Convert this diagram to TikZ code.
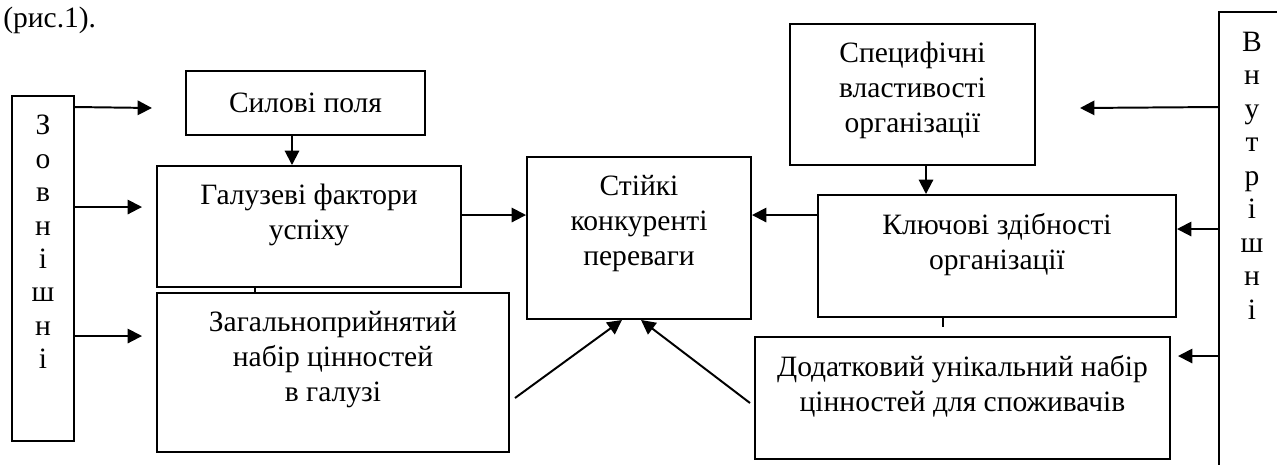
\documentclass[tikz,border=0pt]{standalone}
\usepackage{fontspec}
\setmainfont{Liberation Serif}
\usetikzlibrary{arrows.meta}
\tikzset{box/.style={draw, line width=1.4pt, inner sep=0pt},
         txt/.style={anchor=north, yshift=-4.7mm, align=center, inner sep=0pt},
         col/.style={txt, font=\fontsize{21}{23.8}\selectfont},
         arr/.style={line width=1.4pt, -{Triangle[length=3.6mm,width=3.6mm]}},
        }
\begin{document}
\begin{tikzpicture}[font=\fontsize{21}{24.9}\selectfont]
        \useasboundingbox (0,0) rectangle (31.925,-11.6);
        \node[anchor=base west, inner sep=0pt](fig)at(0.075,-0.675){(рис.1).};

        \node[box, minimum width=1.55cm, minimum height=8.625cm,
              label={[col, yshift=-0.25mm]north:З\\о\\в\\н\\і\\ш\\н\\і}](zovn)at(1.075,-6.7125){};
        \node[box, minimum width=5.975cm, minimum height=1.6cm](syl)at(7.6375,-2.575){Силові поля};
        \node[box, minimum width=7.6cm, minimum height=3.025cm,
              label={[txt]north:Галузеві фактори\\успіху}](galuz)at(7.725,-5.6625){};
        \node[box, minimum width=8.8cm, minimum height=3.975cm,
              label={[txt]north:Загальноприйнятий\\набір цінностей\\в галузі}](zag)at(8.325,-9.3125){};
        \node[box, minimum width=5.6cm, minimum height=4.05cm,
              label={[txt]north:Стійкі\\конкуренті\\переваги}](stiyki)at(15.975,-5.95){};
        \node[box, minimum width=6.125cm, minimum height=3.525cm,
              label={[txt]north:Специфічні\\властивості\\організації}](spec)at(22.8125,-2.3625){};
        \node[box, minimum width=8.95cm, minimum height=3.05cm,
              label={[txt]north:Ключові здібності\\організації}](kluch)at(24.925,-6.4){};
        \node[box, minimum width=10.375cm, minimum height=3.05cm,
              label={[txt]north:Додатковий унікальний набір\\цінностей для споживачів}](dod)at(24.0625,-9.95){};
        \node[box, minimum width=1.65cm, minimum height=11.7cm,
              label={[col, yshift=-0.5mm]north:В\\н\\у\\т\\р\\і\\ш\\н\\і}](vnutr)at(31.3,-6.15){};

        % outer factors
        \coordinate(z1)at([yshift=-3mm]zovn.north east);
        \coordinate(z2)at([yshift=-28mm]zovn.north east);
        \coordinate(z3)at([yshift=-60.25mm]zovn.north east);
        \coordinate(f1)at(3.8,-2.7);
        \draw[arr](z1)--(f1);
        \draw[arr, shorten >=3.5mm](z2)--(z2 -| galuz.west);
        \draw[arr, shorten >=3.5mm](z3)--(z3 -| zag.west);

        \coordinate(s1)at([xshift=-3.375mm]syl.south);
        \draw[arr](s1)--(s1 |- galuz.north);
        \coordinate(g1)at([yshift=-12.5mm]galuz.north east);
        \draw[arr](g1)--(g1 -| stiyki.west);
        \coordinate(g2)at([xshift=-13.5mm]galuz.south);
        \draw[line width=1.1pt](g2)--(g2 |- zag.north);
        \draw[arr]([xshift=1.25mm, yshift=-26.5mm]zag.north east)--([xshift=-4.25mm]stiyki.south);

        % inner factors
        \coordinate(v1)at([yshift=-24mm]vnutr.north west);
        \coordinate(v2)at([yshift=-54.5mm]vnutr.north west);
        \coordinate(v3)at([yshift=-86.25mm]vnutr.north west);
        \coordinate(f2)at(27,-2.7);
        \draw[arr](v1)--(f2);
        \draw[arr](v2)--(v2 -| kluch.east);
        \draw[arr, shorten >=1.75mm](v3)--(v3 -| dod.east);

        \coordinate(sp1)at([xshift=3.375mm]spec.south);
        \draw[arr](sp1)--(sp1 |- kluch.north);
        \coordinate(k1)at([yshift=-5.25mm]kluch.north west);
        \draw[arr](k1)--(k1 -| stiyki.east);
        \coordinate(k2)at([xshift=-13.5mm]kluch.south);
        \draw[line width=1.1pt](k2)--++(0,-0.225);
        \draw[arr]([xshift=-1mm, yshift=-16.75mm]dod.north west)--([xshift=0.5mm]stiyki.south);
    \end{tikzpicture}
\end{document}
